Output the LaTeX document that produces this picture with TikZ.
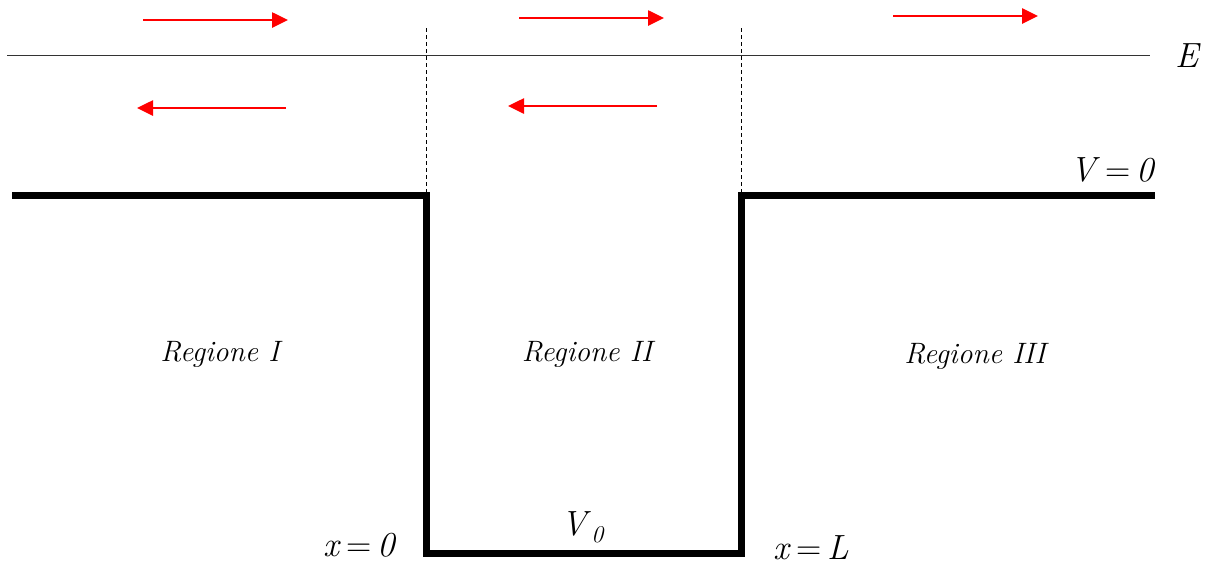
\documentclass[tikz,border=0pt]{standalone}
\usetikzlibrary{arrows.meta}
\begin{document}
\begin{tikzpicture}[x=1pt,y=-1pt,
  wave/.style={red,line width=2.6pt,-{Triangle[length=16pt,width=15pt]}},
  well/.style={line width=7pt,line join=miter,line cap=butt},
  bound/.style={dashed,line width=0.8pt,dash pattern=on 4pt off 3pt},
  lbl/.style={font=\fontsize{29.5}{32}\selectfont\itshape,inner sep=0pt},
  mlbl/.style={font=\fontsize{35}{40}\selectfont,inner sep=0pt}]
\useasboundingbox (0,0) rectangle (1209,566);
% energy level
\coordinate (e1) at (7,55);
\coordinate (e2) at (1150,55);
\draw[line width=0.9pt,black!80] (e1) -- (e2);
\node[mlbl] (E) at (1188,56) {\textit{E}};
% boundaries
\coordinate (d1t) at (426,28);
\coordinate (d1b) at (426,195);
\coordinate (d2t) at (741,28);
\coordinate (d2b) at (741,195);
\draw[bound] (d1t) -- (d1b);
\draw[bound] (d2t) -- (d2b);
% potential
\coordinate (p1) at (12,195);
\coordinate (p2) at (426,195);
\coordinate (p3) at (426,553);
\coordinate (p4) at (741,553);
\coordinate (p5) at (741,195);
\coordinate (p6) at (1155,195);
\draw[well] (p1) -- (p2) -- (p3) -- (p4) -- (p5) -- (p6);
% waves
\coordinate (r1a) at (143,20); \coordinate (r1b) at (288,20);
\coordinate (r2a) at (519,18); \coordinate (r2b) at (664,18);
\coordinate (r3a) at (893,16); \coordinate (r3b) at (1038,16);
\coordinate (l1a) at (286,108); \coordinate (l1b) at (137,108);
\coordinate (l2a) at (657,106); \coordinate (l2b) at (508,106);
\draw[wave] (r1a) -- (r1b);
\draw[wave] (r2a) -- (r2b);
\draw[wave] (r3a) -- (r3b);
\draw[wave] (l1a) -- (l1b);
\draw[wave] (l2a) -- (l2b);
% labels
\node[lbl] (R1) at (220,354) {Regione I};
\node[lbl] (R2) at (587,354) {Regione II};
\node[lbl] (R3) at (975,356) {Regione III};
\node[mlbl] (V0) at (583,527) {\textit{V}\raisebox{-0.2em}{\fontsize{24}{26}\selectfont\textit{0}}};
\node[mlbl] (V) at (1113,170) {\textit{V}\,=\,\textit{0}};
\node[mlbl] (x0) at (360,545) {\textit{x}\,=\,\textit{0}};
\node[mlbl] (xL) at (811,548) {\textit{x}\,=\,\textit{L}};
\end{tikzpicture}
\end{document}
